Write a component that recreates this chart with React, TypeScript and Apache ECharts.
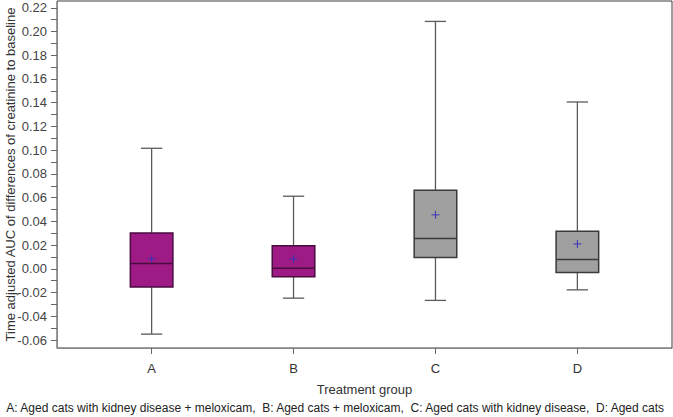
import React, { useEffect, useRef } from "react";
import * as echarts from "echarts";

const categories = ["A", "B", "C", "D"];
// [lower whisker, Q1, median, Q3, upper whisker]
const boxLow = [-0.055, -0.0247, -0.0266, -0.0177];
const boxQ1 = [-0.0154, -0.0067, 0.0096, -0.003];
const boxMedian = [0.0045, 0.0005, 0.0256, 0.0079];
const boxQ3 = [0.0303, 0.0194, 0.0662, 0.0317];
const boxHigh = [0.1016, 0.0612, 0.2085, 0.1406];
const boxMean = [0.0084, 0.0084, 0.0455, 0.021];
const yTickLabels = [-0.06, -0.04, -0.02, 0.0, 0.02, 0.04, 0.06, 0.08, 0.1, 0.12, 0.14, 0.16, 0.18, 0.2, 0.22];
const yMinorTicks = [-0.05, -0.03, -0.01, 0.01, 0.03, 0.05, 0.07, 0.09, 0.11, 0.13, 0.15, 0.17, 0.19, 0.21];
const footnote =
  "A: Aged cats with kidney disease + meloxicam,  B: Aged cats + meloxicam,  C: Aged cats with kidney disease,  D: Aged cats";

const fills = ["#9E1B85", "#9E1B85", "#A0A0A0", "#A0A0A0"];
const borders = ["#4A0D3F", "#4A0D3F", "#3A3A3A", "#3A3A3A"];
const FONT = "Liberation Sans, Arial, sans-serif";

export default function App() {
  const ref = useRef<HTMLDivElement>(null);
  useEffect(() => {
    if (!ref.current) return;
    const chart = echarts.init(ref.current, null, { renderer: "svg" });
    const data = categories.map((c, i) => [
      i + 1,
      boxLow[i],
      boxQ1[i],
      boxMedian[i],
      boxQ3[i],
      boxHigh[i],
      boxMean[i],
      i,
    ]);
    const allTicks = [...yTickLabels, ...yMinorTicks].sort((a, b) => a - b);
    chart.setOption({
      animation: false,
      grid: {
        left: 57,
        right: 1,
        top: 1,
        bottom: 69,
        containLabel: false,
        outerBoundsMode: "none",
        show: true,
        borderColor: "#3c3c3c",
        borderWidth: 1,
        backgroundColor: "#fff",
      },
      xAxis: {
        type: "value",
        min: 0.3333,
        max: 4.6667,
        scale: true,
        name: "Treatment group",
        nameLocation: "middle",
        nameGap: 35,
        nameMoveOverlap: false,
        nameTextStyle: { fontSize: 13, color: "#333", fontFamily: FONT },
        axisLine: { show: true, onZero: false, lineStyle: { color: "#888" } },
        axisTick: {
          show: true,
          customValues: [1, 2, 3, 4],
          length: 6,
          lineStyle: { color: "#666" },
        },
        axisLabel: {
          customValues: [1, 2, 3, 4],
          formatter: (v: number) => categories[Math.round(v) - 1] ?? "",
          fontSize: 13,
          color: "#333",
          fontFamily: FONT,
          margin: 14,
        },
        splitLine: { show: false },
      },
      yAxis: {
        type: "value",
        min: -0.0667,
        max: 0.2257,
        name: "Time adjusted AUC of differences of creatinine to baseline",
        nameLocation: "middle",
        nameGap: 40,
        nameMoveOverlap: false,
        nameTextStyle: { fontSize: 13, color: "#333", fontFamily: FONT },
        axisLine: { show: true, onZero: false, lineStyle: { color: "#888" } },
        axisTick: {
          show: true,
          customValues: allTicks,
          length: 6,
          lineStyle: { color: "#666" },
        },
        axisLabel: {
          customValues: yTickLabels,
          formatter: (v: number) => v.toFixed(2),
          fontSize: 13,
          color: "#444",
          fontFamily: FONT,
          margin: 10,
        },
        splitLine: { show: false },
      },
      graphic: [
        {
          type: "text",
          left: "center",
          top: 402,
          style: {
            text: footnote,
            fontSize: 12,
            fontFamily: "Liberation Sans Narrow, Liberation Sans, Arial, sans-serif",
            fill: "#222",
          },
        },
      ],
      series: [
        {
          type: "custom",
          data,
          encode: { x: 0, y: [1, 2, 3, 4, 5, 6] },
          renderItem: (params: any, api: any) => {
            const x = api.value(0);
            const idx = api.value(7);
            const pLow = api.coord([x, api.value(1)]);
            const pQ1 = api.coord([x, api.value(2)]);
            const pMed = api.coord([x, api.value(3)]);
            const pQ3 = api.coord([x, api.value(4)]);
            const pHigh = api.coord([x, api.value(5)]);
            const pMean = api.coord([x, api.value(6)]);
            const w = api.size([0.3, 0])[0];
            const cap = w / 2;
            const cx = pLow[0];
            const wh = { stroke: "#5a5a5a", lineWidth: 1.3 };
            const m = 4;
            return {
              type: "group",
              children: [
                { type: "line", shape: { x1: cx, y1: pHigh[1], x2: cx, y2: pQ3[1] }, style: wh },
                { type: "line", shape: { x1: cx, y1: pLow[1], x2: cx, y2: pQ1[1] }, style: wh },
                { type: "line", shape: { x1: cx - cap / 2, y1: pHigh[1], x2: cx + cap / 2, y2: pHigh[1] }, style: wh },
                { type: "line", shape: { x1: cx - cap / 2, y1: pLow[1], x2: cx + cap / 2, y2: pLow[1] }, style: wh },
                {
                  type: "rect",
                  shape: { x: cx - w / 2, y: pQ3[1], width: w, height: pQ1[1] - pQ3[1] },
                  style: { fill: fills[idx], stroke: borders[idx], lineWidth: 1.5 },
                },
                {
                  type: "line",
                  shape: { x1: cx - w / 2, y1: pMed[1], x2: cx + w / 2, y2: pMed[1] },
                  style: { stroke: borders[idx], lineWidth: 1.5 },
                },
                {
                  type: "line",
                  shape: { x1: cx - m, y1: pMean[1], x2: cx + m, y2: pMean[1] },
                  style: { stroke: "#3535B5", lineWidth: 1 },
                },
                {
                  type: "line",
                  shape: { x1: cx, y1: pMean[1] - m, x2: cx, y2: pMean[1] + m },
                  style: { stroke: "#3535B5", lineWidth: 1 },
                },
              ],
            };
          },
        },
      ],
    });
    return () => chart.dispose();
  }, []);
  return (
    <div
      ref={ref}
      style={{ position: "fixed", left: 0, top: 0, width: 673, height: 417, background: "#fff" }}
    />
  );
}
